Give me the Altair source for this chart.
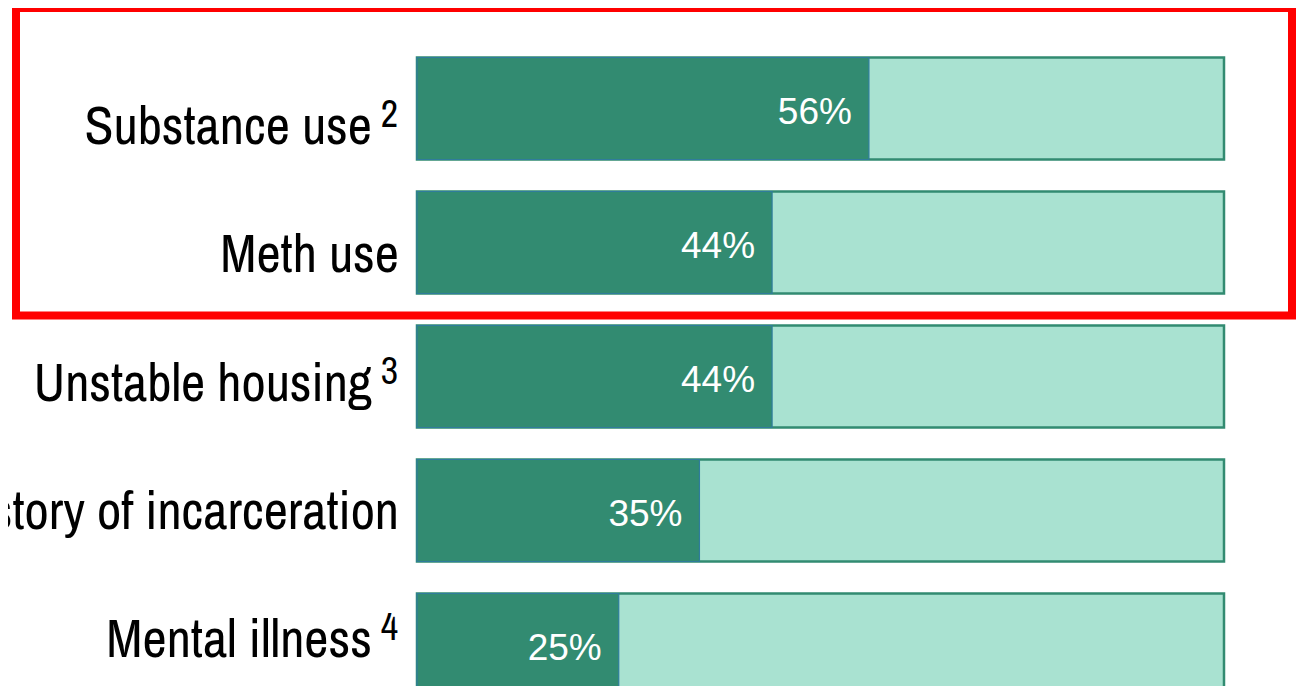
import altair as alt
import pandas as pd

categories = ["Substance use", "Meth use", "Unstable housing", "History of incarceration", "Mental illness"]
values = [56, 44, 44, 35, 25]
sups = ["2", "", "3", "", "4"]
totals = [100, 100, 100, 100, 100]

df = pd.DataFrame({"cat": categories, "value": values, "sup": sups, "total": totals})
df["label"] = df["value"].astype(str) + "%"

DARK = "#328B71"
LIGHT = "#A9E2D1"
LABEL_FONT = "Archivo Narrow, Roboto Condensed, Liberation Sans"

xscale = alt.Scale(domain=[0, 100], range=[409, 1216])
ybar = alt.Scale(domain=categories, range=[33.5, 703.5], paddingInner=0.239, paddingOuter=0.1195)
ylab = alt.Scale(type="point", domain=categories, range=[136, 649], padding=0)

base = alt.Chart(df)

bg = base.mark_bar(color=LIGHT, stroke=DARK, strokeWidth=2.5).encode(
    x=alt.X("total:Q", scale=xscale, axis=None),
    y=alt.Y("cat:N", scale=ybar, axis=None, sort=categories),
)
fg = base.mark_bar(color=DARK, stroke="#2F7C9C", strokeWidth=1.2).encode(
    x=alt.X("value:Q", scale=xscale, axis=None),
    y=alt.Y("cat:N", scale=ybar, axis=None, sort=categories),
)
vals = base.mark_text(align="right", baseline="alphabetic", dx=-17, dy=15,
                      font="Liberation Sans", fontSize=37, color="white").encode(
    x=alt.X("value:Q", scale=xscale, axis=None),
    y=alt.Y("cat:N", scale=ybar, axis=None, sort=categories),
    text="label:N",
)

bars = alt.layer(bg, fg, vals)

lab_plain = base.transform_filter("datum.sup == ''").mark_text(
    align="right", baseline="alphabetic", font=LABEL_FONT, fontSize=53, color="black"
).encode(
    x=alt.value(391),
    y=alt.Y("cat:N", scale=ylab, axis=None),
    text="cat:N",
)
lab_sup_main = base.transform_filter("datum.sup != ''").mark_text(
    align="right", baseline="alphabetic", font=LABEL_FONT, fontSize=53, color="black"
).encode(
    x=alt.value(364),
    y=alt.Y("cat:N", scale=ylab, axis=None),
    text="cat:N",
)
lab_sup = base.transform_filter("datum.sup != ''").mark_text(
    align="right", baseline="alphabetic", dy=-17, font=LABEL_FONT, fontSize=38, color="black"
).encode(
    x=alt.value(390),
    y=alt.Y("cat:N", scale=ylab, axis=None),
    text="sup:N",
)
labels = alt.layer(lab_plain, lab_sup_main, lab_sup)

frame = base.mark_rect(fill=None, stroke="#FF0000", strokeWidth=8).encode(
    x=alt.value(8), x2=alt.value(1284), y=alt.value(0), y2=alt.value(307.5)
).transform_filter("datum.cat == 'Substance use'")

chart = alt.layer(bars, labels, frame).resolve_scale(y="independent").properties(
    width=1288, height=678, autosize=alt.AutoSizeParams(type="none"), padding=0, background="white"
).configure_view(strokeWidth=0)

chart.save("out.html", embed_options={"renderer": "svg", "actions": False})
